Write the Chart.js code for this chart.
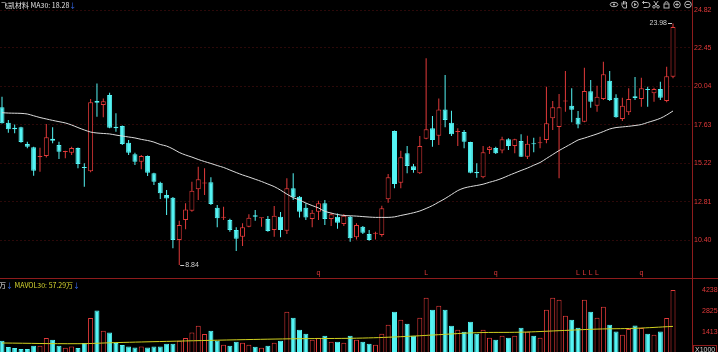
<!DOCTYPE html>
<html>
<head>
<meta charset="utf-8">
<script src="https://cdn.jsdelivr.net/npm/chart.js@4.4.0/dist/chart.umd.min.js"></script>
<style>
html, body { margin: 0; padding: 0; background: #000; width: 718px; height: 352px; overflow: hidden; }
canvas { position: absolute; left: 0; }
#price { top: 0; }
#vol { top: 280px; }
</style>
</head>
<body>
<canvas id="price" width="718" height="280"></canvas>
<canvas id="vol" width="718" height="80"></canvas>
<script>
// daily candles, oldest first
var opens = [18.72,17.75,17.44,17.47,16.42,16.21,15.60,15.67,16.75,16.36,15.92,15.87,16.17,14.98,14.71,19.12,18.86,19.49,17.50,17.55,
  16.50,15.77,15.31,15.67,14.58,13.99,13.22,13.05,10.40,11.65,12.24,13.58,13.94,14.02,12.43,11.80,11.65,11.03,10.61,11.23,
  11.95,11.76,11.72,11.03,11.86,10.98,13.64,13.11,12.43,11.72,12.17,12.70,11.72,11.86,11.40,11.86,10.57,11.23,10.78,10.80,
  10.71,12.95,17.23,13.99,15.84,15.02,14.58,16.75,17.40,16.94,18.59,17.75,17.17,17.17,16.54,14.66,14.33,16.04,16.17,16.02,
  16.71,16.29,16.61,15.62,16.44,16.46,16.67,18.03,17.49,19.08,18.82,18.07,17.82,19.72,18.82,19.24,20.39,19.32,17.99,18.41,
  19.41,19.24,19.84,19.60,19.87,19.12,20.64];
var highs = [19.38,17.92,17.65,17.50,16.56,16.25,16.19,17.67,17.47,16.56,16.00,16.25,16.20,15.21,19.24,20.22,19.28,19.64,18.34,17.58,
  16.67,15.87,15.73,15.70,14.62,14.06,13.54,13.10,11.61,12.70,14.06,15.00,14.90,14.33,12.59,12.49,11.74,11.20,11.45,12.01,
  12.28,11.80,11.90,12.53,12.16,14.27,14.58,13.16,12.70,12.28,12.86,12.91,12.11,12.07,12.03,11.90,11.45,11.28,11.03,10.92,
  12.55,14.54,17.26,16.00,16.29,15.17,16.92,21.79,18.17,19.28,20.75,18.51,17.40,17.30,16.56,15.21,16.29,16.29,16.25,16.88,
  16.78,16.75,17.03,16.94,16.81,16.88,20.01,19.12,19.55,20.99,19.91,18.49,21.20,20.43,20.07,21.58,20.99,19.54,19.32,19.91,
  20.62,20.58,20.01,19.95,20.33,21.27,23.98];
var lows = [17.70,17.13,17.09,16.50,16.15,14.43,14.68,15.58,16.46,15.48,15.52,15.73,14.90,13.74,14.65,18.13,18.09,17.40,17.19,16.36,
  15.73,15.10,14.83,14.41,13.85,12.97,11.97,9.88,8.84,11.07,12.17,12.91,13.22,12.60,11.20,11.65,10.92,9.71,10.02,11.20,
  11.61,11.23,10.92,10.61,10.57,10.78,12.91,11.82,11.65,11.20,11.65,11.34,11.28,11.11,11.28,10.29,10.44,10.78,10.36,10.44,
  10.61,12.74,13.64,13.64,14.58,14.62,14.54,16.71,16.25,16.36,17.47,16.92,16.29,16.15,14.58,14.31,14.27,15.79,15.79,15.84,
  16.04,15.84,15.60,15.48,15.90,16.15,16.46,17.30,14.27,18.44,17.78,17.40,17.78,18.70,18.44,19.18,19.12,18.07,17.86,18.24,
  19.18,18.76,18.76,19.07,19.18,19.03,20.54];
var closes = [17.72,17.34,17.34,16.54,16.25,14.75,15.64,16.84,16.63,15.94,15.96,16.17,15.17,14.91,19.03,19.01,19.10,17.44,17.40,16.42,
  15.87,15.31,15.67,14.62,14.06,13.33,13.01,10.40,11.34,12.32,13.49,14.21,13.98,12.66,11.76,11.84,11.03,10.48,11.20,11.80,
  11.86,11.80,10.96,11.92,11.03,13.64,13.08,12.17,11.82,12.11,12.70,11.72,12.01,11.48,11.92,10.51,11.34,10.86,10.40,10.84,
  12.39,14.33,13.91,15.59,15.04,14.79,16.29,17.34,16.67,18.59,17.92,17.03,17.21,16.56,14.62,14.58,15.90,16.21,15.84,16.71,
  16.29,16.71,15.62,16.44,16.40,16.50,17.72,18.72,18.72,19.12,18.57,17.65,19.74,19.07,19.38,20.79,19.18,18.09,18.82,19.24,
  19.30,19.91,19.80,19.87,19.32,20.66,23.76];
// volume in thousands
var volumes = [828,404,337,269,269,491,491,1010,895,491,357,444,337,673,2356,2867,1501,1386,673,538,
  444,377,444,377,444,444,626,626,828,1010,1386,1837,1279,1501,828,559,491,760,693,559,
  424,357,491,693,828,2779,2376,1568,1299,895,1030,1164,760,760,693,1164,895,760,626,559,
  1299,1905,2779,2241,1972,1164,2376,3722,2914,3183,2914,1837,1568,1433,2106,1299,1568,1030,895,1164,
  1030,1164,1703,1433,1164,1030,2914,3722,3587,2510,2241,1703,3587,2779,2376,3116,1905,1454,1232,1615,
  1857,1683,1299,1232,1454,2356,4238];
// MA30 of close
var ma30 = [18.38,18.36,18.35,18.34,18.30,18.19,18.08,17.99,17.90,17.82,17.74,17.61,17.45,17.30,17.17,17.11,17.08,17.05,16.98,16.92,
  16.86,16.80,16.71,16.64,16.54,16.39,16.29,16.11,15.89,15.73,15.60,15.45,15.32,15.20,15.07,14.95,14.79,14.63,14.48,14.35,
  14.21,14.07,13.91,13.75,13.53,13.28,13.06,12.91,12.72,12.56,12.41,12.20,12.09,12.00,11.94,11.92,11.90,11.87,11.84,11.82,
  11.82,11.82,11.85,11.94,12.02,12.11,12.22,12.38,12.56,12.78,13.00,13.25,13.50,13.66,13.75,13.82,13.90,14.02,14.13,14.27,
  14.44,14.60,14.76,14.91,15.09,15.26,15.51,15.76,16.01,16.23,16.45,16.67,16.79,16.92,17.05,17.20,17.36,17.45,17.49,17.53,
  17.58,17.64,17.77,17.89,18.03,18.24,18.49];
// MAVOL30, read at a few candles
var mavolIdx = [1, 13, 19, 27, 38, 48, 57, 64, 70, 76, 83, 89, 95, 101, 107];
var mavolVal = [673, 626, 700, 781, 888, 962, 996, 1097, 1232, 1366, 1400, 1501, 1608, 1662, 1790];

var priceTicks = [10.40, 12.81, 15.22, 17.63, 20.04, 22.45, 24.82];
var volTicks = [1413, 2825, 4238];
var signIdx = [51, 68, 79, 92, 93, 94, 95, 102];
var signText = ['q', 'L', 'q', 'L', 'L', 'L', 'L', 'q'];

var RED = '#e23a3a';
var CYAN = '#54f4f4';
var AXIS = '#8e1c1c';
var XMIN = 0.684, XMAX = 110.0;

var idx = closes.map(function (c, i) { return i + 1; });
var up = closes.map(function (c, i) { return c >= opens[i]; });

// fixed-width right axis, no extra label padding so the plot keeps the exact height
function fitAxis(s) {
  s.width = 26;
  s.paddingTop = 0;
  s.paddingBottom = 0;
}

function frame(ctx, area, h, bottomLine) {
  ctx.save();
  ctx.strokeStyle = AXIS;
  ctx.lineWidth = 1;
  ctx.beginPath();
  ctx.moveTo(area.right + 0.5, 0);
  ctx.lineTo(area.right + 0.5, h);
  if (bottomLine) {
    ctx.moveTo(0, 278.5);
    ctx.lineTo(718, 278.5);
  }
  ctx.stroke();
  ctx.restore();
}

function drawIcons(ctx) {
  var xs = [614, 624.5, 635, 645.5, 656, 666.5, 677, 688];
  var cy = 4.5;
  ctx.save();
  ctx.strokeStyle = '#b8b8b8';
  ctx.fillStyle = '#b8b8b8';
  ctx.lineWidth = 1;
  // eye
  ctx.beginPath(); ctx.ellipse(xs[0], cy, 3.8, 2.2, 0, 0, Math.PI * 2); ctx.stroke();
  ctx.beginPath(); ctx.arc(xs[0], cy, 1.1, 0, Math.PI * 2); ctx.fill();
  // hand
  ctx.beginPath();
  ctx.moveTo(xs[1] - 2.5, cy + 1); ctx.lineTo(xs[1] - 2.5, cy - 2);
  ctx.moveTo(xs[1] - 1, cy); ctx.lineTo(xs[1] - 1, cy - 3.5);
  ctx.moveTo(xs[1] + 0.5, cy); ctx.lineTo(xs[1] + 0.5, cy - 3.5);
  ctx.moveTo(xs[1] + 2, cy); ctx.lineTo(xs[1] + 2, cy - 2.5);
  ctx.moveTo(xs[1] - 2.5, cy + 1); ctx.lineTo(xs[1] - 1, cy + 3.5); ctx.lineTo(xs[1] + 2, cy + 3.5); ctx.lineTo(xs[1] + 2, cy);
  ctx.stroke();
  // play
  ctx.beginPath(); ctx.arc(xs[2], cy, 3.3, 0, Math.PI * 2); ctx.stroke();
  ctx.beginPath(); ctx.moveTo(xs[2] - 1, cy - 1.8); ctx.lineTo(xs[2] + 1.8, cy); ctx.lineTo(xs[2] - 1, cy + 1.8); ctx.closePath(); ctx.fill();
  // undo
  ctx.beginPath();
  ctx.moveTo(xs[3] - 3, cy - 2); ctx.lineTo(xs[3] + 2, cy - 2);
  ctx.arc(xs[3] + 2, cy + 0.5, 2.5, -Math.PI / 2, Math.PI / 2);
  ctx.lineTo(xs[3] - 2, cy + 3);
  ctx.moveTo(xs[3] - 1.5, cy - 3.5); ctx.lineTo(xs[3] - 3, cy - 2); ctx.lineTo(xs[3] - 1.5, cy - 0.5);
  ctx.stroke();
  // scissors
  ctx.beginPath(); ctx.arc(xs[4] - 2, cy + 2.3, 1.3, 0, Math.PI * 2); ctx.stroke();
  ctx.beginPath(); ctx.arc(xs[4] + 2, cy + 2.3, 1.3, 0, Math.PI * 2); ctx.stroke();
  ctx.beginPath();
  ctx.moveTo(xs[4] - 1.3, cy + 1.2); ctx.lineTo(xs[4] + 2.2, cy - 3.5);
  ctx.moveTo(xs[4] + 1.3, cy + 1.2); ctx.lineTo(xs[4] - 2.2, cy - 3.5);
  ctx.stroke();
  // lock
  ctx.strokeRect(xs[5] - 2.5, cy - 0.5, 5, 4);
  ctx.beginPath(); ctx.arc(xs[5], cy - 1, 1.8, Math.PI, 0); ctx.stroke();
  // zoom in / out
  ctx.beginPath(); ctx.arc(xs[6], cy, 3.3, 0, Math.PI * 2); ctx.stroke();
  ctx.beginPath(); ctx.moveTo(xs[6] - 1.8, cy); ctx.lineTo(xs[6] + 1.8, cy); ctx.moveTo(xs[6], cy - 1.8); ctx.lineTo(xs[6], cy + 1.8); ctx.stroke();
  ctx.beginPath(); ctx.arc(xs[7], cy, 3.3, 0, Math.PI * 2); ctx.stroke();
  ctx.beginPath(); ctx.moveTo(xs[7] - 1.8, cy); ctx.lineTo(xs[7] + 1.8, cy); ctx.stroke();
  ctx.restore();
}

var priceDecor = {
  id: 'priceDecor',
  afterDraw: function (chart) {
    var ctx = chart.ctx, x = chart.scales.x, y = chart.scales.y;
    frame(ctx, chart.chartArea, 280, true);
    ctx.save();
    ctx.textBaseline = 'middle';
    // title
    ctx.font = '7px "Noto Sans CJK SC", "Liberation Sans", sans-serif';
    ctx.fillStyle = '#e6e6e6';
    var title = '飞凯材料 MA30: 18.28';
    ctx.fillText(title, 1, 5.5);
    ctx.fillStyle = '#3a72ff';
    ctx.fillText('↓', 1 + ctx.measureText(title).width, 5.5);
    // highest / lowest marks
    ctx.font = '7px "Liberation Sans", sans-serif';
    ctx.fillStyle = '#cfcfcf';
    ctx.strokeStyle = '#cfcfcf';
    var hx = x.getPixelForValue(107), hy = y.getPixelForValue(23.98);
    ctx.beginPath(); ctx.moveTo(hx - 5, Math.round(hy) + 0.5); ctx.lineTo(hx - 1, Math.round(hy) + 0.5); ctx.stroke();
    ctx.textAlign = 'right';
    ctx.fillText('23.98', hx - 6, hy);
    var lx = x.getPixelForValue(29), ly = y.getPixelForValue(8.84);
    ctx.beginPath(); ctx.moveTo(lx + 1, Math.round(ly) + 0.5); ctx.lineTo(lx + 5, Math.round(ly) + 0.5); ctx.stroke();
    ctx.textAlign = 'left';
    ctx.fillText('8.84', lx + 6, ly);
    // signal letters under the candles
    ctx.fillStyle = RED;
    ctx.textAlign = 'center';
    for (var i = 0; i < signIdx.length; i++) {
      ctx.fillText(signText[i], x.getPixelForValue(signIdx[i]), 273);
    }
    ctx.restore();
    drawIcons(ctx);
  }
};

var volDecor = {
  id: 'volDecor',
  afterDraw: function (chart) {
    var ctx = chart.ctx;
    frame(ctx, chart.chartArea, 80, false);
    ctx.save();
    ctx.textBaseline = 'middle';
    ctx.font = '7px "Noto Sans CJK SC", "Liberation Sans", sans-serif';
    var x0 = -1;
    ctx.fillStyle = '#e6e6e6';
    ctx.fillText('万', x0, 5);
    x0 += ctx.measureText('万').width;
    ctx.fillStyle = '#3a72ff';
    ctx.fillText('↓', x0, 5);
    x0 += ctx.measureText('↓ ').width;
    ctx.fillStyle = '#d8d830';
    var t = 'MAVOL30: 57.29万';
    ctx.fillText(t, x0, 5);
    x0 += ctx.measureText(t).width;
    ctx.fillStyle = '#3a72ff';
    ctx.fillText('↓', x0, 5);
    // unit box
    ctx.strokeStyle = AXIS;
    ctx.strokeRect(693.5, 65.5, 23, 10);
    ctx.font = '7px "Liberation Sans", sans-serif';
    ctx.fillStyle = '#d0d0d0';
    ctx.fillText('X1000', 695, 70);
    ctx.restore();
  }
};

var wickData = idx.map(function (i) { return { x: i, y: [lows[i - 1], highs[i - 1]] }; });
var bodyData = idx.map(function (i) { return { x: i, y: [opens[i - 1], closes[i - 1]] }; });

new Chart(document.getElementById('price'), {
  data: {
    datasets: [
      {
        type: 'line',
        data: ma30.map(function (v, i) { return { x: i + 1, y: v }; }),
        borderColor: '#dcdcdc',
        borderWidth: 1,
        pointRadius: 0,
        tension: 0.3
      },
      {
        type: 'bar',
        data: bodyData,
        backgroundColor: up.map(function (u) { return u ? '#000' : CYAN; }),
        borderColor: up.map(function (u) { return u ? RED : CYAN; }),
        borderWidth: 1,
        borderSkipped: false,
        inflateAmount: 0,
        barThickness: 5,
        minBarLength: 1,
        grouped: false
      },
      {
        type: 'bar',
        data: wickData,
        backgroundColor: up.map(function (u) { return u ? RED : CYAN; }),
        borderWidth: 0,
        inflateAmount: 0,
        barThickness: 1,
        grouped: false
      }
    ]
  },
  options: {
    responsive: false,
    animation: false,
    devicePixelRatio: 1,
    layout: { padding: { top: 10, bottom: 2, left: 0, right: 0 } },
    plugins: { legend: { display: false }, tooltip: { enabled: false } },
    scales: {
      x: { type: 'linear', min: XMIN, max: XMAX, offset: false, display: false },
      y: {
        position: 'right',
        min: 8.02,
        max: 24.82,
        afterFit: fitAxis,
        afterBuildTicks: function (s) { s.ticks = priceTicks.map(function (v) { return { value: v }; }); },
        ticks: {
          color: RED,
          padding: 2,
          font: { size: 7, family: '"Liberation Sans", sans-serif' },
          callback: function (v) { return v.toFixed(2); }
        },
        grid: { color: '#2c0909', drawTicks: false },
        border: { display: false, dash: [2, 2] }
      }
    }
  },
  plugins: [priceDecor]
});

new Chart(document.getElementById('vol'), {
  data: {
    datasets: [
      {
        type: 'line',
        data: mavolIdx.map(function (k, i) { return { x: k, y: mavolVal[i] }; }),
        borderColor: '#d0d020',
        borderWidth: 1,
        pointRadius: 0,
        tension: 0.4
      },
      {
        type: 'bar',
        data: idx.map(function (i) { return { x: i, y: volumes[i - 1] }; }),
        backgroundColor: up.map(function (u) { return u ? '#000' : CYAN; }),
        borderColor: up.map(function (u) { return u ? RED : CYAN; }),
        borderWidth: 1,
        borderSkipped: false,
        inflateAmount: 0,
        barThickness: 5,
        grouped: false
      }
    ]
  },
  options: {
    responsive: false,
    animation: false,
    devicePixelRatio: 1,
    layout: { padding: { top: 10, bottom: 7, left: 0, right: 0 } },
    plugins: { legend: { display: false }, tooltip: { enabled: false } },
    scales: {
      x: { type: 'linear', min: XMIN, max: XMAX, offset: false, display: false },
      y: {
        position: 'right',
        min: 0,
        max: 4238,
        afterFit: fitAxis,
        afterBuildTicks: function (s) { s.ticks = volTicks.map(function (v) { return { value: v }; }); },
        ticks: {
          color: RED,
          padding: 2,
          font: { size: 7, family: '"Liberation Sans", sans-serif' },
          callback: function (v) { return String(v); }
        },
        grid: { display: false },
        border: { display: false }
      }
    }
  },
  plugins: [volDecor]
});
</script>
</body>
</html>
